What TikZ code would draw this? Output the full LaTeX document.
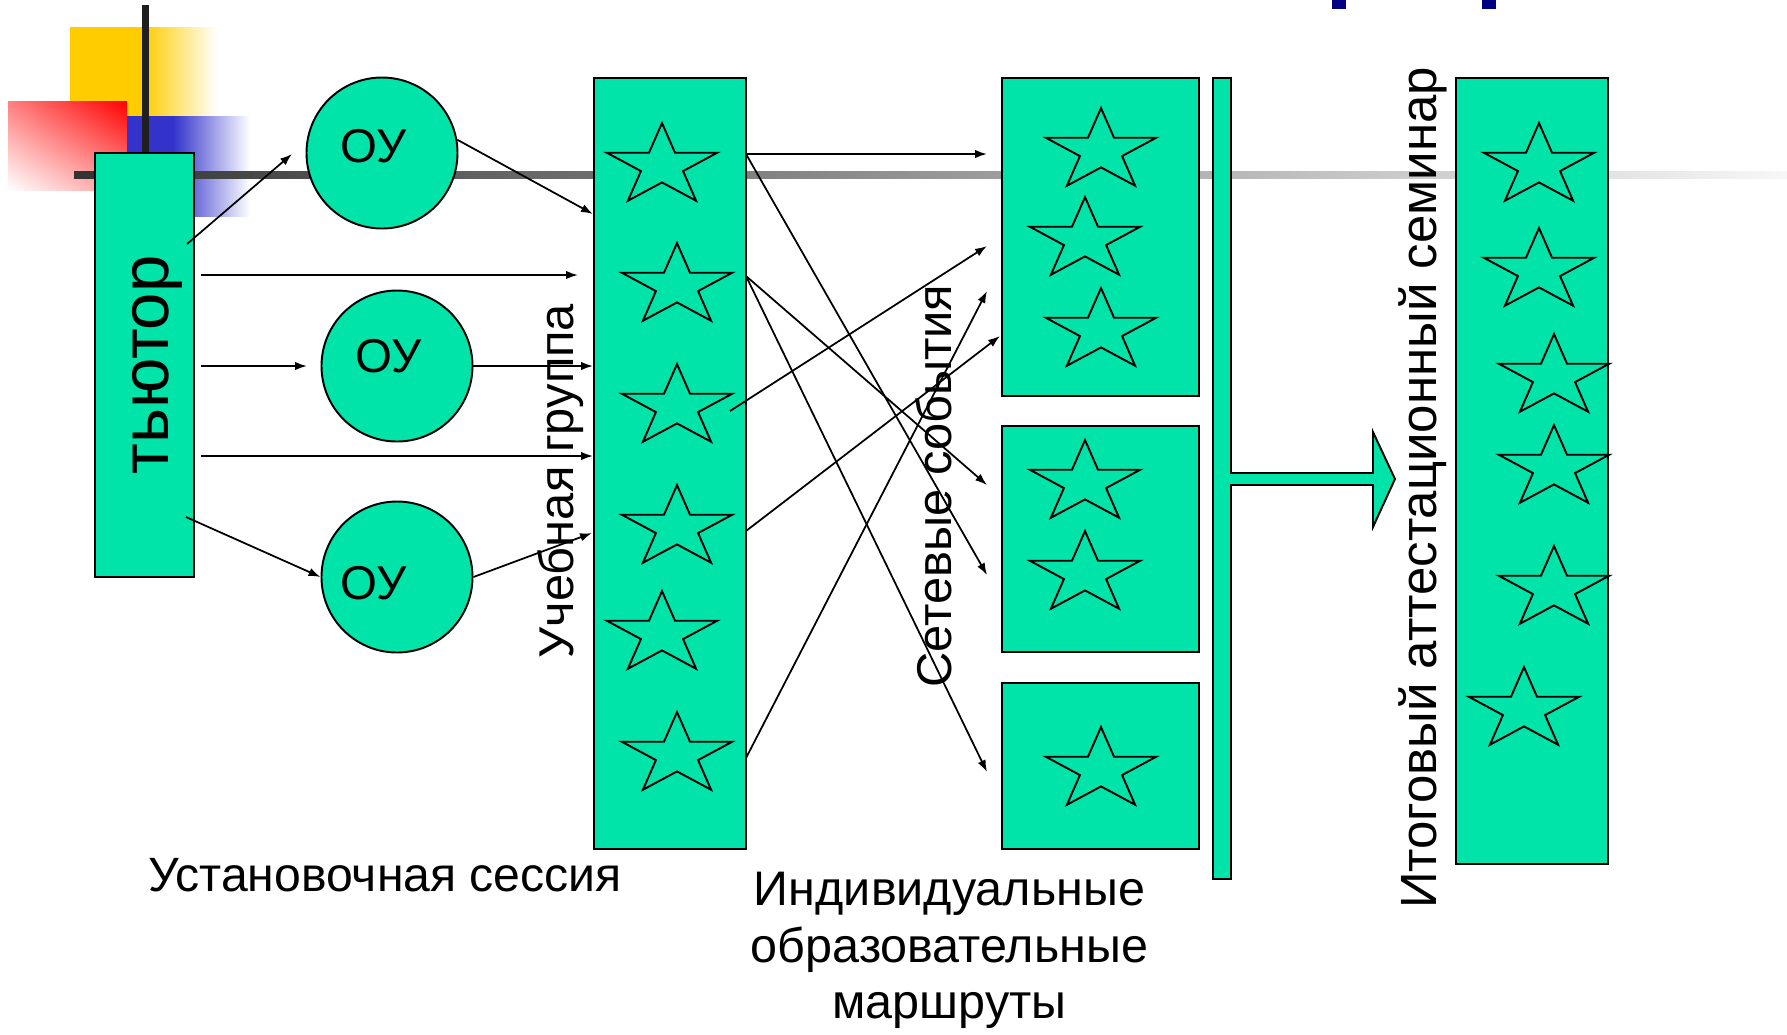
\documentclass[tikz,border=0pt]{standalone}
\usepackage{fontspec}
\setmainfont{Liberation Sans}
\usetikzlibrary{arrows.meta, shapes.geometric, shadings}
\definecolor{tgreen}{RGB}{0,228,170}
\definecolor{ppyellow}{RGB}{255,204,0}
\definecolor{ppblue}{RGB}{51,51,204}
\definecolor{ppnavy}{RGB}{0,0,128}

\begin{document}
\begin{tikzpicture}[x=0.1mm, y=-0.1mm, >={Latex[length=3.4pt, width=2.4pt]},
    box/.style={draw, line width=0.55pt, fill=tgreen, rectangle, inner sep=0pt},
    ou/.style={draw, line width=0.55pt, fill=tgreen, circle, inner sep=0pt, minimum size=15.1mm},
    starmark/.style={star, star points=5, star point ratio=2.618, draw, line width=0.55pt,
        inner sep=0pt, minimum size=11.6mm, yscale=0.74, transform shape},
    link/.style={->, line width=0.5pt},
    vlabel/.style={rotate=90, anchor=base, inner sep=0pt, font=\fontsize{13.9}{16}\selectfont}]

    \useasboundingbox (0,0) rectangle (1787,1034);

    % coloured squares in the corner:
    \fill[ppyellow] (70,27) rectangle (144,116);
    \shade[left color=ppyellow, right color=white] (143,27) rectangle (217,116);
    \shade[upper left=red!50, upper right=red, lower left=white, lower right=red!40] (8,101) rectangle (127,190);
    \fill[ppblue] (127,116) rectangle (174,216);
    \shade[left color=ppblue, right color=white] (173,116) rectangle (250,216);
    \fill[black!88] (142,5) rectangle (149,200);
    \shade[left color=black!80, right color=black!3] (74,171) rectangle (1787,178);

    % what is left of the title at the top:
    \fill[ppnavy] (1332,0) rectangle (1346,9);
    \fill[ppnavy] (1482,0) rectangle (1496,9);

    \node[box, minimum width=9.9mm, minimum height=42.4mm] (tut) at (144.5,365) {};
    \node[ou] (c1) at (382,153) {};
    \node[ou] (c2) at (397,366) {};
    \node[ou] (c3) at (397,577) {};
    \node[box, minimum width=15.2mm, minimum height=77.1mm] (grp) at (670,463.5) {};
    \node[box, minimum width=19.7mm, minimum height=31.8mm] (ev1) at (1100.5,237) {};
    \node[box, minimum width=19.7mm, minimum height=22.6mm] (ev2) at (1100.5,539) {};
    \node[box, minimum width=19.7mm, minimum height=16.6mm] (ev3) at (1100.5,766) {};
    \node[box, minimum width=15.2mm, minimum height=78.6mm] (fin) at (1532,471) {};

    % the bar with the fat arrow going to the seminar:
    \draw[line width=0.55pt, fill=tgreen] (1213,78) -- (1231,78) -- (1231,473) -- (1373,473) -- (1373,432)
        -- (1395,479) -- (1373,527) -- (1373,485) -- (1231,485) -- (1231,879) -- (1213,879) -- cycle;

    \foreach \n/\x/\y in {s1/662/166, s2/677/286, s3/677/407, s4/677/528, s5/662/634, s6/677/755,
            e1/1101/151, e2/1085/240, e3/1101/331, e4/1085/483, e5/1085/574, e6/1101/770,
            f1/1539/166, f2/1539/271, f3/1554/377, f4/1554/468, f5/1554/589, f6/1524/710}
        \node[starmark] (\n) at (\x,\y) {};

    % loose ends of the thin arrows:
    \coordinate (t1) at (187,244);  \coordinate (t1e) at (292,154);
    \coordinate (t2) at (201,275);  \coordinate (t2e) at (578,275);
    \coordinate (t3) at (201,366);  \coordinate (t3e) at (307,366);
    \coordinate (t4) at (201,456);
    \coordinate (t5) at (186,517);
    \coordinate (g1) at (593,214);  \coordinate (g3) at (592,533);
    \coordinate (o1) at (746,154);  \coordinate (o2) at (746,276);  \coordinate (o3) at (730,411);
    \coordinate (o4) at (746,531);  \coordinate (o6) at (746,758);
    \coordinate (m1) at (987,154);  \coordinate (m2) at (987,246);  \coordinate (m3) at (987,291);
    \coordinate (m4) at (1000,336); \coordinate (m5) at (987,485);  \coordinate (m6) at (987,575);
    \coordinate (m7) at (987,772);

    \draw[link] (t1) -- (t1e);
    \draw[link] (t2) -- (t2e);
    \draw[link] (t3) -- (t3e);
    \draw[link] (t4) -- (t4 -| grp.west);
    \draw[link] (t5) -- (c3.west);
    \draw[link] (c1.10) -- (g1);
    \draw[link] (c2.east) -- (c2.east -| grp.west);
    \draw[link] (c3.east) -- (g3);

    \draw[link] (o1) -- (m1);
    \draw[link] (o1) -- (m6);
    \draw[link] (o2) -- (m5);
    \draw[link] (o2) -- (m7);
    \draw[link] (o3) -- (m2);
    \draw[link] (o4) -- (m4);
    \draw[link] (o6) -- (m3);

    % texts
    \node[vlabel, font=\fontsize{19.1}{22}\selectfont] (tutlbl) at (168,365) {тьютор};
    \node[inner sep=0pt, font=\fontsize{13.5}{16}\selectfont] (ou1) at (374,146) {ОУ};
    \node[inner sep=0pt, font=\fontsize{13.5}{16}\selectfont] (ou2) at (389,356) {ОУ};
    \node[inner sep=0pt, font=\fontsize{13.5}{16}\selectfont] (ou3) at (374,583) {ОУ};
    \node[vlabel] (grplbl) at (573,481) {Учебная группа};
    \node[vlabel] (evlbl) at (951,486) {Сетевые события};
    \node[vlabel, font=\fontsize{14.5}{17}\selectfont] (finlbl) at (1436,488) {Итоговый аттестационный семинар};
    \node[anchor=base, inner sep=0pt, font=\fontsize{13.7}{16}\selectfont] (setlbl) at (385,891) {Установочная сессия};
    \node[anchor=north, align=center, inner sep=0pt, font=\fontsize{13.8}{16.2}\selectfont] (iomlbl) at (949.5,871)
        {Индивидуальные\\образовательные\\маршруты};

\end{tikzpicture}
\end{document}
